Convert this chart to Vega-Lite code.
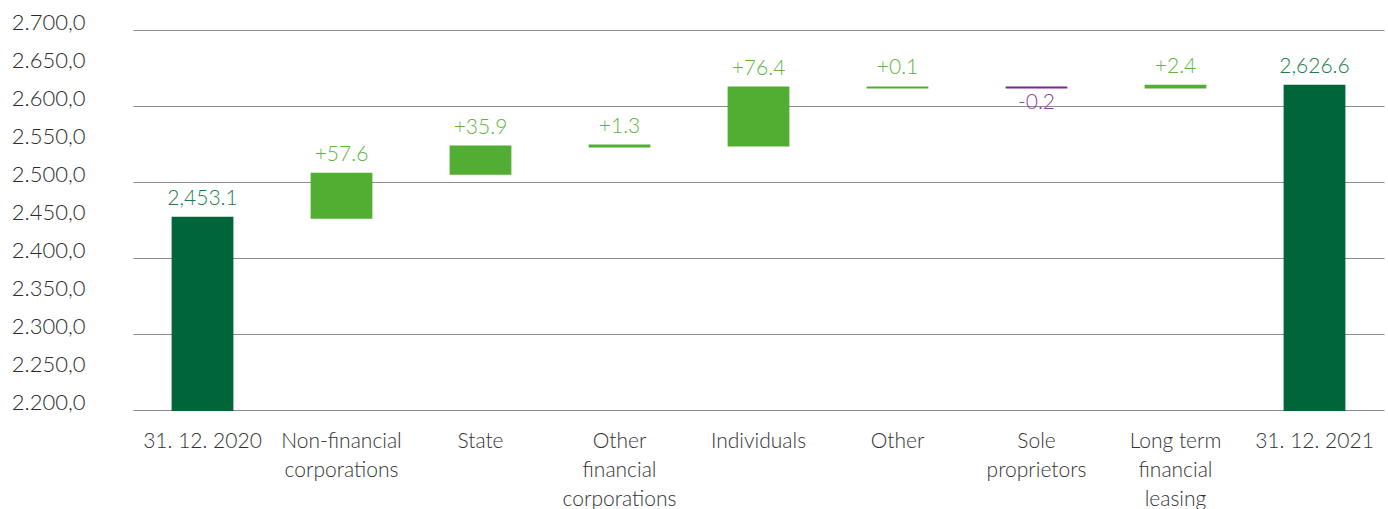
{
  "$schema": "https://vega.github.io/schema/vega-lite/v6.json",
  "width": 1251,
  "height": 380,
  "autosize": {"type": "none"},
  "padding": {"left": 133, "top": 30, "right": 4, "bottom": 99},
  "background": "white",
  "config": {
    "view": {"stroke": null},
    "font": "Lato"
  },
  "data": {
    "values": [
      {"cat": "31. 12. 2020", "start": 2200, "end": 2453.1, "label": "2,453.1", "type": "total"},
      {"cat": "Non-financial|corporations", "start": 2453.1, "end": 2510.7, "label": "+57.6", "type": "increase"},
      {"cat": "State", "start": 2510.7, "end": 2546.6, "label": "+35.9", "type": "increase"},
      {"cat": "Other|financial|corporations", "start": 2546.6, "end": 2547.9, "label": "+1.3", "type": "increase"},
      {"cat": "Individuals", "start": 2547.9, "end": 2624.3, "label": "+76.4", "type": "increase"},
      {"cat": "Other", "start": 2624.3, "end": 2624.4, "label": "+0.1", "type": "increase"},
      {"cat": "Sole|proprietors", "start": 2624.4, "end": 2624.2, "label": "-0.2", "type": "decrease"},
      {"cat": "Long term|financial|leasing", "start": 2624.2, "end": 2626.6, "label": "+2.4", "type": "increase"},
      {"cat": "31. 12. 2021", "start": 2200, "end": 2626.6, "label": "2,626.6", "type": "total"}
    ]
  },
  "encoding": {
    "x": {
      "field": "cat",
      "type": "nominal",
      "sort": null,
      "scale": {"paddingInner": 0.57, "paddingOuter": 0.285},
      "axis": {
        "title": null,
        "labelAngle": 0,
        "domain": false,
        "ticks": false,
        "labelPadding": 20,
        "labelBaseline": "top",
        "labelFontSize": 21,
        "labelFontWeight": 300,
        "labelColor": "#333333",
        "labelLineHeight": 29,
        "labelLimit": 0,
        "labelOverlap": false,
        "labelExpr": "split(datum.label, '|')"
      }
    },
    "y": {
      "field": "end",
      "type": "quantitative",
      "scale": {"domain": [2200, 2700], "nice": false, "zero": false},
      "axis": {
        "title": null,
        "values": [2200, 2250, 2300, 2350, 2400, 2450, 2500, 2550, 2600, 2650, 2700],
        "tickCount": 11,
        "domain": false,
        "ticks": false,
        "labelPadding": 48,
        "labelAlign": "right",
        "labelOffset": -8,
        "labelOverlap": false,
        "labelFontSize": 22,
        "labelFontWeight": 300,
        "labelColor": "#2b2b2b",
        "labelExpr": "replace(replace(replace(format(datum.value, ',.1f'), ',', '#'), '.', ','), '#', '.')",
        "grid": true,
        "gridColor": {"condition": {"test": "datum.value % 100 === 0", "value": "#8c8c8c"}, "value": "transparent"},
        "gridWidth": 1
      }
    }
  },
  "layer": [
    {
      "mark": {"type": "bar", "strokeWidth": 2},
      "encoding": {
        "y2": {"field": "start"},
        "fill": {
          "field": "type",
          "type": "nominal",
          "scale": {"domain": ["total", "increase", "decrease"], "range": ["#00663a", "#52ae32", "#7a2a8c"]},
          "legend": null
        },
        "stroke": {
          "field": "type",
          "type": "nominal",
          "scale": {"domain": ["total", "increase", "decrease"], "range": ["#00663a", "#52ae32", "#7a2a8c"]},
          "legend": null
        }
      }
    },
    {
      "transform": [{"filter": "datum.type !== 'decrease'"}],
      "mark": {"type": "text", "baseline": "alphabetic", "dy": -13, "fontSize": 21, "fontWeight": 300},
      "encoding": {
        "text": {"field": "label"},
        "color": {
          "field": "type",
          "type": "nominal",
          "scale": {"domain": ["total", "increase", "decrease"], "range": ["#1b7a4e", "#5cb53e", "#8e3f9e"]},
          "legend": null
        }
      }
    },
    {
      "transform": [{"filter": "datum.type === 'decrease'"}],
      "mark": {"type": "text", "baseline": "top", "dy": 4, "fontSize": 21, "fontWeight": 300},
      "encoding": {
        "text": {"field": "label"},
        "color": {
          "field": "type",
          "type": "nominal",
          "scale": {"domain": ["total", "increase", "decrease"], "range": ["#1b7a4e", "#5cb53e", "#8e3f9e"]},
          "legend": null
        }
      }
    }
  ]
}
